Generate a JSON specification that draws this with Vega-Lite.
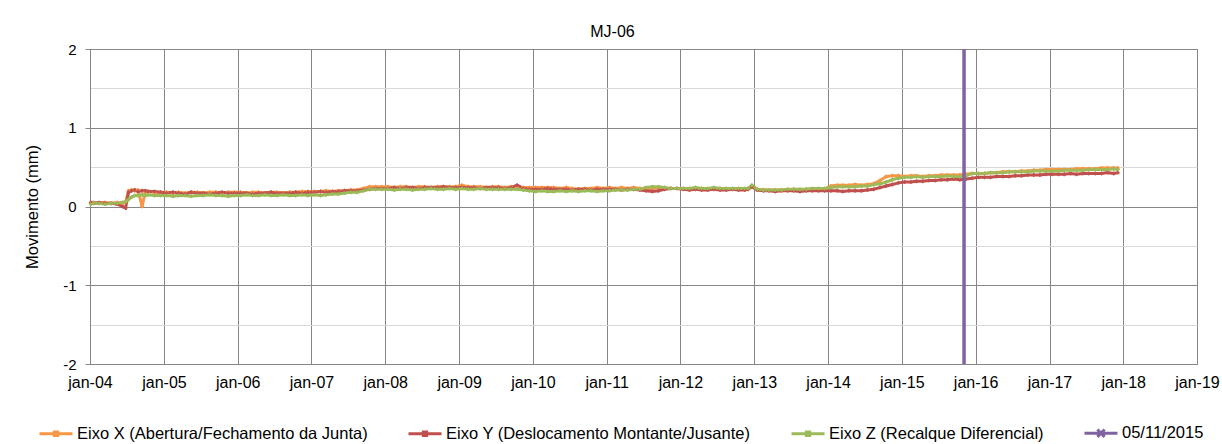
{
"$schema": "https://vega.github.io/schema/vega-lite/v6.json",
"width": 1107, "height": 315,
"autosize": {"type": "none"},
"padding": {"left": 90, "top": 49, "right": 25, "bottom": 80},
"background": "white",
"config": {"font": "Liberation Sans", "view": {"stroke": "#868686", "strokeWidth": 1}},
"title": {"text": "MJ-06", "fontSize": 16, "fontWeight": "normal", "color": "black", "frame": "group", "anchor": "middle", "dx": -31, "offset": 2},
"datasets": {
"s": [
{"d":"2004-01-05","X":0.04,"Y":0.05,"Z":0.03},
{"d":"2004-01-20","X":0.05,"Y":0.04,"Z":0.04},
{"d":"2004-02-15","X":0.04,"Y":0.05,"Z":0.04},
{"d":"2004-03-15","X":0.05,"Y":0.04,"Z":0.03},
{"d":"2004-04-15","X":0.04,"Y":0.04,"Z":0.04},
{"d":"2004-05-15","X":0.05,"Y":0.03,"Z":0.04},
{"d":"2004-06-10","X":0.04,"Y":0.00,"Z":0.05},
{"d":"2004-06-25","X":0.06,"Y":-0.02,"Z":0.06},
{"d":"2004-07-10","X":0.20,"Y":0.18,"Z":0.09},
{"d":"2004-07-25","X":0.21,"Y":0.20,"Z":0.12},
{"d":"2004-08-10","X":0.20,"Y":0.21,"Z":0.14},
{"d":"2004-08-25","X":0.21,"Y":0.19,"Z":0.14},
{"d":"2004-09-15","X":0.00,"Y":0.20,"Z":0.15},
{"d":"2004-10-01","X":0.19,"Y":0.20,"Z":0.14},
{"d":"2004-10-15","X":0.19,"Y":0.19,"Z":0.15},
{"d":"2004-11-15","X":0.18,"Y":0.19,"Z":0.14},
{"d":"2004-12-15","X":0.18,"Y":0.18,"Z":0.14},
{"d":"2005-01-15","X":0.18,"Y":0.17,"Z":0.14},
{"d":"2005-02-15","X":0.17,"Y":0.18,"Z":0.13},
{"d":"2005-03-15","X":0.18,"Y":0.17,"Z":0.14},
{"d":"2005-04-15","X":0.17,"Y":0.16,"Z":0.14},
{"d":"2005-05-15","X":0.18,"Y":0.18,"Z":0.13},
{"d":"2005-06-15","X":0.18,"Y":0.17,"Z":0.14},
{"d":"2005-07-15","X":0.17,"Y":0.17,"Z":0.14},
{"d":"2005-08-15","X":0.18,"Y":0.16,"Z":0.15},
{"d":"2005-09-15","X":0.18,"Y":0.17,"Z":0.14},
{"d":"2005-10-15","X":0.17,"Y":0.18,"Z":0.14},
{"d":"2005-11-15","X":0.18,"Y":0.17,"Z":0.13},
{"d":"2005-12-15","X":0.18,"Y":0.17,"Z":0.14},
{"d":"2006-01-15","X":0.18,"Y":0.17,"Z":0.14},
{"d":"2006-02-15","X":0.17,"Y":0.17,"Z":0.15},
{"d":"2006-03-15","X":0.18,"Y":0.16,"Z":0.14},
{"d":"2006-04-15","X":0.18,"Y":0.17,"Z":0.14},
{"d":"2006-05-15","X":0.17,"Y":0.17,"Z":0.15},
{"d":"2006-06-15","X":0.18,"Y":0.18,"Z":0.14},
{"d":"2006-07-15","X":0.18,"Y":0.17,"Z":0.14},
{"d":"2006-08-15","X":0.17,"Y":0.17,"Z":0.15},
{"d":"2006-09-15","X":0.18,"Y":0.17,"Z":0.14},
{"d":"2006-10-15","X":0.18,"Y":0.18,"Z":0.14},
{"d":"2006-11-15","X":0.19,"Y":0.17,"Z":0.15},
{"d":"2006-12-15","X":0.19,"Y":0.18,"Z":0.14},
{"d":"2007-01-15","X":0.19,"Y":0.18,"Z":0.15},
{"d":"2007-02-15","X":0.19,"Y":0.19,"Z":0.14},
{"d":"2007-03-15","X":0.20,"Y":0.18,"Z":0.15},
{"d":"2007-04-15","X":0.19,"Y":0.19,"Z":0.16},
{"d":"2007-05-15","X":0.20,"Y":0.19,"Z":0.16},
{"d":"2007-06-15","X":0.20,"Y":0.20,"Z":0.17},
{"d":"2007-07-15","X":0.21,"Y":0.20,"Z":0.18},
{"d":"2007-08-15","X":0.21,"Y":0.20,"Z":0.18},
{"d":"2007-09-15","X":0.23,"Y":0.21,"Z":0.20},
{"d":"2007-10-15","X":0.25,"Y":0.22,"Z":0.22},
{"d":"2007-11-15","X":0.25,"Y":0.23,"Z":0.22},
{"d":"2007-12-15","X":0.25,"Y":0.23,"Z":0.22},
{"d":"2008-01-15","X":0.25,"Y":0.23,"Z":0.22},
{"d":"2008-02-15","X":0.24,"Y":0.24,"Z":0.21},
{"d":"2008-03-15","X":0.25,"Y":0.23,"Z":0.22},
{"d":"2008-04-15","X":0.25,"Y":0.24,"Z":0.22},
{"d":"2008-05-15","X":0.24,"Y":0.24,"Z":0.21},
{"d":"2008-06-15","X":0.25,"Y":0.23,"Z":0.22},
{"d":"2008-07-15","X":0.25,"Y":0.24,"Z":0.22},
{"d":"2008-08-15","X":0.24,"Y":0.24,"Z":0.23},
{"d":"2008-09-15","X":0.25,"Y":0.24,"Z":0.22},
{"d":"2008-10-15","X":0.25,"Y":0.25,"Z":0.22},
{"d":"2008-11-15","X":0.25,"Y":0.24,"Z":0.23},
{"d":"2008-12-15","X":0.25,"Y":0.24,"Z":0.22},
{"d":"2009-01-15","X":0.27,"Y":0.24,"Z":0.23},
{"d":"2009-02-15","X":0.25,"Y":0.24,"Z":0.22},
{"d":"2009-03-15","X":0.25,"Y":0.24,"Z":0.22},
{"d":"2009-04-15","X":0.25,"Y":0.23,"Z":0.23},
{"d":"2009-05-15","X":0.24,"Y":0.24,"Z":0.22},
{"d":"2009-06-15","X":0.25,"Y":0.24,"Z":0.22},
{"d":"2009-07-15","X":0.25,"Y":0.24,"Z":0.22},
{"d":"2009-08-15","X":0.24,"Y":0.23,"Z":0.22},
{"d":"2009-09-15","X":0.25,"Y":0.24,"Z":0.22},
{"d":"2009-10-15","X":0.24,"Y":0.27,"Z":0.22},
{"d":"2009-11-15","X":0.24,"Y":0.23,"Z":0.21},
{"d":"2009-12-15","X":0.24,"Y":0.22,"Z":0.20},
{"d":"2010-01-15","X":0.24,"Y":0.22,"Z":0.19},
{"d":"2010-02-15","X":0.24,"Y":0.22,"Z":0.20},
{"d":"2010-03-15","X":0.24,"Y":0.23,"Z":0.19},
{"d":"2010-04-15","X":0.24,"Y":0.22,"Z":0.19},
{"d":"2010-05-15","X":0.23,"Y":0.22,"Z":0.20},
{"d":"2010-06-15","X":0.24,"Y":0.22,"Z":0.19},
{"d":"2010-07-15","X":0.23,"Y":0.21,"Z":0.20},
{"d":"2010-08-15","X":0.22,"Y":0.22,"Z":0.19},
{"d":"2010-09-15","X":0.23,"Y":0.22,"Z":0.20},
{"d":"2010-10-15","X":0.23,"Y":0.21,"Z":0.20},
{"d":"2010-11-15","X":0.24,"Y":0.22,"Z":0.19},
{"d":"2010-12-15","X":0.23,"Y":0.22,"Z":0.20},
{"d":"2011-01-15","X":0.24,"Y":0.22,"Z":0.20},
{"d":"2011-02-15","X":0.23,"Y":0.22,"Z":0.21},
{"d":"2011-03-15","X":0.24,"Y":0.21,"Z":0.21},
{"d":"2011-04-15","X":0.23,"Y":0.22,"Z":0.21},
{"d":"2011-05-15","X":0.24,"Y":0.22,"Z":0.22},
{"d":"2011-06-15","X":0.23,"Y":0.21,"Z":0.22},
{"d":"2011-07-15","X":0.23,"Y":0.20,"Z":0.24},
{"d":"2011-08-15","X":0.23,"Y":0.19,"Z":0.25},
{"d":"2011-09-15","X":0.24,"Y":0.20,"Z":0.25},
{"d":"2011-10-15","X":0.23,"Y":0.22,"Z":0.24},
{"d":"2011-11-15","X":0.23,"Y":0.23,"Z":0.23},
{"d":"2011-12-15","X":0.23,"Y":0.23,"Z":0.23},
{"d":"2012-01-15","X":0.23,"Y":0.22,"Z":0.23},
{"d":"2012-02-15","X":0.22,"Y":0.21,"Z":0.23},
{"d":"2012-03-15","X":0.22,"Y":0.22,"Z":0.24},
{"d":"2012-04-15","X":0.23,"Y":0.21,"Z":0.23},
{"d":"2012-05-15","X":0.22,"Y":0.21,"Z":0.23},
{"d":"2012-06-15","X":0.22,"Y":0.22,"Z":0.24},
{"d":"2012-07-15","X":0.23,"Y":0.21,"Z":0.23},
{"d":"2012-08-15","X":0.22,"Y":0.21,"Z":0.23},
{"d":"2012-09-15","X":0.22,"Y":0.22,"Z":0.23},
{"d":"2012-10-15","X":0.23,"Y":0.21,"Z":0.23},
{"d":"2012-11-15","X":0.22,"Y":0.21,"Z":0.23},
{"d":"2012-12-01","X":0.22,"Y":0.22,"Z":0.23},
{"d":"2012-12-20","X":0.26,"Y":0.25,"Z":0.27},
{"d":"2013-01-15","X":0.22,"Y":0.21,"Z":0.22},
{"d":"2013-02-15","X":0.21,"Y":0.20,"Z":0.21},
{"d":"2013-03-15","X":0.21,"Y":0.20,"Z":0.21},
{"d":"2013-04-15","X":0.21,"Y":0.19,"Z":0.21},
{"d":"2013-05-15","X":0.21,"Y":0.20,"Z":0.21},
{"d":"2013-06-15","X":0.21,"Y":0.20,"Z":0.22},
{"d":"2013-07-15","X":0.22,"Y":0.20,"Z":0.22},
{"d":"2013-08-15","X":0.21,"Y":0.19,"Z":0.22},
{"d":"2013-09-15","X":0.22,"Y":0.20,"Z":0.22},
{"d":"2013-10-15","X":0.22,"Y":0.20,"Z":0.23},
{"d":"2013-11-15","X":0.22,"Y":0.20,"Z":0.23},
{"d":"2013-12-15","X":0.22,"Y":0.20,"Z":0.23},
{"d":"2014-01-15","X":0.26,"Y":0.20,"Z":0.24},
{"d":"2014-02-15","X":0.27,"Y":0.20,"Z":0.25},
{"d":"2014-03-15","X":0.27,"Y":0.19,"Z":0.25},
{"d":"2014-04-15","X":0.27,"Y":0.20,"Z":0.25},
{"d":"2014-05-15","X":0.28,"Y":0.20,"Z":0.25},
{"d":"2014-06-15","X":0.27,"Y":0.20,"Z":0.26},
{"d":"2014-07-15","X":0.28,"Y":0.21,"Z":0.26},
{"d":"2014-08-15","X":0.29,"Y":0.22,"Z":0.28},
{"d":"2014-09-15","X":0.33,"Y":0.24,"Z":0.29},
{"d":"2014-10-15","X":0.38,"Y":0.26,"Z":0.31},
{"d":"2014-11-15","X":0.39,"Y":0.28,"Z":0.34},
{"d":"2014-12-15","X":0.39,"Y":0.30,"Z":0.36},
{"d":"2015-01-15","X":0.38,"Y":0.31,"Z":0.37},
{"d":"2015-02-15","X":0.39,"Y":0.31,"Z":0.37},
{"d":"2015-03-15","X":0.39,"Y":0.32,"Z":0.38},
{"d":"2015-04-15","X":0.38,"Y":0.32,"Z":0.37},
{"d":"2015-05-15","X":0.39,"Y":0.33,"Z":0.38},
{"d":"2015-06-15","X":0.39,"Y":0.33,"Z":0.38},
{"d":"2015-07-15","X":0.40,"Y":0.34,"Z":0.38},
{"d":"2015-08-15","X":0.40,"Y":0.34,"Z":0.39},
{"d":"2015-09-15","X":0.40,"Y":0.35,"Z":0.38},
{"d":"2015-10-15","X":0.40,"Y":0.34,"Z":0.38},
{"d":"2015-11-15","X":0.41,"Y":0.35,"Z":0.39},
{"d":"2015-12-15","X":0.42,"Y":0.36,"Z":0.42},
{"d":"2016-01-15","X":0.42,"Y":0.37,"Z":0.42},
{"d":"2016-02-15","X":0.42,"Y":0.37,"Z":0.42},
{"d":"2016-03-15","X":0.43,"Y":0.37,"Z":0.43},
{"d":"2016-04-15","X":0.43,"Y":0.38,"Z":0.43},
{"d":"2016-05-15","X":0.44,"Y":0.38,"Z":0.43},
{"d":"2016-06-15","X":0.44,"Y":0.38,"Z":0.44},
{"d":"2016-07-15","X":0.44,"Y":0.39,"Z":0.44},
{"d":"2016-08-15","X":0.45,"Y":0.39,"Z":0.44},
{"d":"2016-09-15","X":0.45,"Y":0.40,"Z":0.44},
{"d":"2016-10-15","X":0.46,"Y":0.40,"Z":0.45},
{"d":"2016-11-15","X":0.46,"Y":0.40,"Z":0.45},
{"d":"2016-12-15","X":0.47,"Y":0.41,"Z":0.45},
{"d":"2017-01-15","X":0.47,"Y":0.41,"Z":0.45},
{"d":"2017-02-15","X":0.47,"Y":0.41,"Z":0.45},
{"d":"2017-03-15","X":0.47,"Y":0.41,"Z":0.46},
{"d":"2017-04-15","X":0.47,"Y":0.42,"Z":0.46},
{"d":"2017-05-15","X":0.48,"Y":0.41,"Z":0.46},
{"d":"2017-06-15","X":0.48,"Y":0.42,"Z":0.46},
{"d":"2017-07-15","X":0.48,"Y":0.42,"Z":0.47},
{"d":"2017-08-15","X":0.48,"Y":0.42,"Z":0.47},
{"d":"2017-09-15","X":0.49,"Y":0.42,"Z":0.47},
{"d":"2017-10-15","X":0.49,"Y":0.43,"Z":0.47},
{"d":"2017-11-15","X":0.49,"Y":0.42,"Z":0.48},
{"d":"2017-12-05","X":0.49,"Y":0.43,"Z":0.47}
],
"p": [{"d":"2015-11-05"}]
},
"layer": [
{
"data": {"name": "s"},
"transform": [{"fold": ["X","Y","Z"], "as": ["s","v"]}],
"mark": {"type": "line", "strokeWidth": 3, "point": {"filled": true, "size": 20, "shape": "diamond"}},
"encoding": {
"x": {"field": "d", "type": "temporal",
 "scale": {"type": "utc", "domain": [{"year": 2004, "month": 1, "date": 1, "utc": true}, {"year": 2019, "month": 1, "date": 1, "utc": true}]},
 "axis": {"title": null, "tickCount": {"interval": "year", "step": 1}, "labelExpr": "'jan-' + utcFormat(datum.value, '%y')",
  "grid": true, "gridColor": "#868686", "gridWidth": 1, "domainColor": "#868686", "tickSize": 0, "labelPadding": 10,
  "labelFontSize": 16, "labelColor": "black", "labelOverlap": false, "labelBound": false, "labelFlush": false}},
"y": {"field": "v", "type": "quantitative",
 "scale": {"domain": [-2, 2], "nice": false, "zero": false},
 "axis": {"title": "Movimento (mm)", "titleFontSize": 16.5, "titleFontWeight": "normal", "titleColor": "black", "titlePadding": 22,
  "values": [-2, -1.5, -1, -0.5, 0, 0.5, 1, 1.5, 2],
  "labelExpr": "datum.value % 1 === 0 ? '' + datum.value : ''",
  "grid": true, "gridWidth": 1,
  "gridColor": {"condition": {"test": "datum.value % 1 !== 0", "value": "#d9d9d9"}, "value": "#868686"},
  "tickOpacity": {"condition": {"test": "datum.value % 1 !== 0", "value": 0}, "value": 1},
  "tickColor": "#868686", "tickSize": 5, "domainColor": "#868686",
  "labelPadding": 9, "labelFontSize": 15, "labelColor": "black"}},
"color": {"field": "s", "type": "nominal",
 "scale": {"domain": ["X","Y","Z","P"], "range": ["#F79646","#C0504D","#9BBB59","#8064A2"]},
 "legend": {"title": null, "orient": "none", "legendX": -52, "legendY": 366, "direction": "horizontal", "columns": 4,
  "labelFontSize": 16.5, "labelColor": "black", "labelOffset": 3, "columnPadding": 34, "labelLimit": 500,
  "symbolSize": 1089, "symbolStrokeWidth": 3, "symbolType": "M-1,0H1M-0.1,-0.1H0.1V0.1H-0.1Z",
  "labelExpr": "datum.value === 'X' ? 'Eixo X (Abertura/Fechamento da Junta)' : datum.value === 'Y' ? 'Eixo Y (Deslocamento Montante/Jusante)' : datum.value === 'Z' ? 'Eixo Z (Recalque Diferencial)' : '05/11/2015'",
  "encode": {"symbols": {"update": {"shape": {"signal": "datum.value === 'P' ? 'M-1,0H1M-0.22,-0.22L0.22,0.22M-0.22,0.22L0.22,-0.22' : 'M-1,0H1M-0.1,-0.1H0.1V0.1H-0.1Z'"}}}}}}
}
},
{
"data": {"name": "p"},
"mark": {"type": "rule", "strokeWidth": 3.5},
"encoding": {"x": {"field": "d", "type": "temporal"}, "color": {"datum": "P"}}
}
]
}
